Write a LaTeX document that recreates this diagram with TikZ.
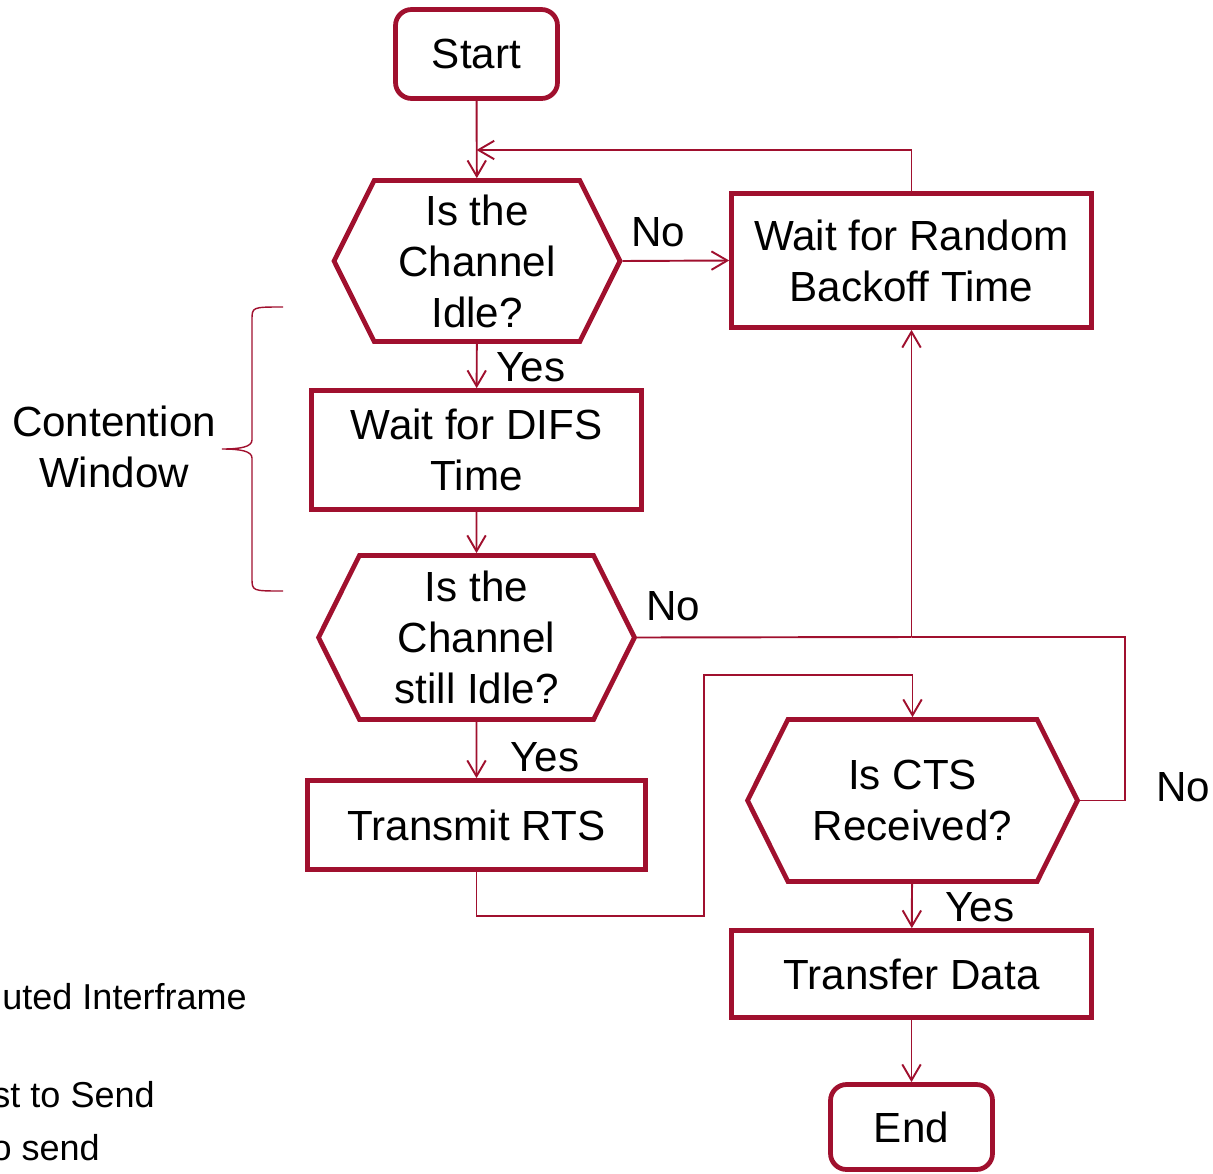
\documentclass[tikz,border=0pt]{standalone}
\usepackage{fontspec}
\setmainfont{Liberation Sans}
\usepackage{xcolor}
\usepackage{tikz}
\usetikzlibrary{shapes.symbols, arrows.meta, positioning, calc}
\definecolor{flowred}{RGB}{160, 16, 46}
\newcommand{\flowfont}{\fontsize{24}{29}\selectfont}
\newcommand{\notefont}{\fontsize{20.5}{25}\selectfont}

\tikzset{
    procbox/.style={draw=flowred, line width=2.7pt, rectangle,
                    align=center, font=\flowfont, inner sep=0pt},
    termbox/.style={procbox, rounded corners=0.32cm},
    askbox/.style={procbox, signal, signal to=west and east,
                   signal pointer angle=127},
    link/.style={draw=flowred, line width=1.1pt,
                 -{Straight Barb[length=9pt, width=10.5pt]}},
    plainlink/.style={draw=flowred, line width=1.1pt},
    tag/.style={font=\flowfont, inner sep=0pt}
}

\begin{document}
\begin{tikzpicture}[x=0.02cm, y=-0.02cm]
    \useasboundingbox (0,0) rectangle (1213,1173);

    % MAIN COLUMN
    \node[termbox, minimum width=3.24cm, minimum height=1.78cm]
        (start) at (476.5,54) {Start};
    \node[askbox, minimum width=5.72cm, minimum height=3.22cm]
        (idle) at (477,261) {Is the\\Channel\\Idle?};
    \node[procbox, minimum width=6.6cm, minimum height=2.38cm]
        (difs) at (476.5,450) {Wait for DIFS\\Time};
    \node[askbox, minimum width=6.32cm, minimum height=3.28cm]
        (still) at (476.5,637.5) {Is the\\Channel\\still Idle?};
    \node[procbox, minimum width=6.76cm, minimum height=1.78cm]
        (rts) at (476.5,825) {Transmit RTS};

    % RIGHT COLUMN
    \node[procbox, minimum width=7.2cm, minimum height=2.68cm]
        (backoff) at (911.5,260.5) {Wait for Random\\Backoff Time};
    \node[askbox, minimum width=6.6cm, minimum height=3.24cm]
        (cts) at (912.5,800.5) {Is CTS\\Received?};
    \node[procbox, minimum width=7.2cm, minimum height=1.74cm]
        (data) at (911.5,974) {Transfer Data};
    \node[termbox, minimum width=3.24cm, minimum height=1.7cm]
        (end) at (911.5,1127) {End};

    % TURNING POINTS
    \coordinate (merge) at (476.5,150);
    \coordinate (split) at (911.5,637);
    \coordinate (farright) at (1125,637);
    \coordinate (lowturn) at (704,916);
    \coordinate (highturn) at (704,675);

    % CONNECTORS
    \draw[link] (start) -- (idle);
    \draw[link] (backoff.north) |- (merge);
    \draw[link] (idle.east) -- (backoff.west);
    \draw[link] (idle) -- (difs);
    \draw[link] (difs) -- (still);
    \draw[plainlink] (still.east) -- (split);
    \draw[link] (split) -- (backoff.south);
    \draw[plainlink] (cts.east) -| (farright) -- (split);
    \draw[link] (still) -- (rts);
    \draw[link] (rts.south) |- (lowturn) -- (highturn) -| (cts.north);
    \draw[link] (cts) -- (data);
    \draw[link] (data) -- (end);

    % LABELS
    \node[tag] (noidle) at (658,232) {No};
    \node[tag] (yesidle) at (531,367) {Yes};
    \node[tag] (nostill) at (673,606) {No};
    \node[tag] (yesstill) at (545,757) {Yes};
    \node[tag] (nocts) at (1183,787) {No};
    \node[tag] (yescts) at (980,907) {Yes};

    % CONTENTION WINDOW BRACE
    \draw[flowred, line width=0.8pt]
        (283,307) .. controls (252,307) .. (252,320) -- (252,440)
        .. controls (252,447) and (240,449) .. (222,449)
        .. controls (240,449) and (252,451) .. (252,458) -- (252,578)
        .. controls (252,591) .. (283,591);
    \node[tag, align=center] (window) at (114,447) {Contention\\Window};

    % LEGEND (cut at the left edge)
    \node[anchor=east, inner xsep=0pt, font=\notefont]
        (difsnote) at (247,997) {uted Interframe};
    \node[anchor=east, inner xsep=0pt, font=\notefont]
        (rtsnote) at (155,1095) {st to Send};
    \node[anchor=east, inner xsep=0pt, font=\notefont]
        (ctsnote) at (100,1148) {o send};

\end{tikzpicture}
\end{document}
